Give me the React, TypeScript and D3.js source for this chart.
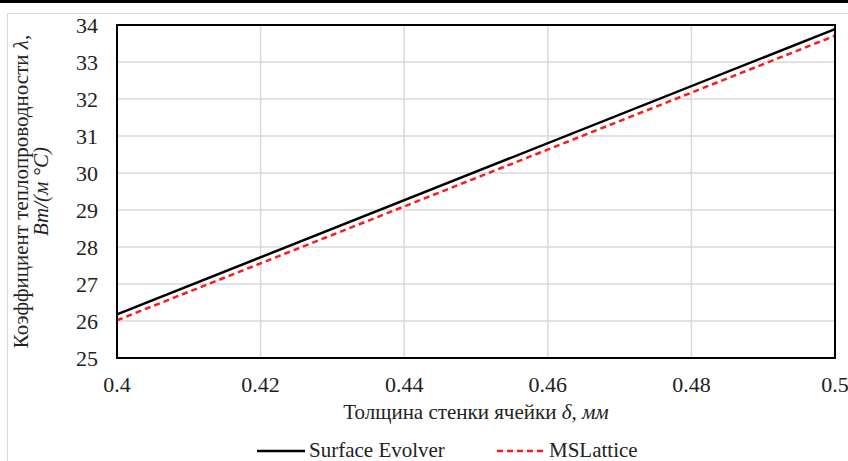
import React from "react";
import * as d3 from "d3";

const xValues = [0.4, 0.5];
const surfaceEvolver = [26.18, 33.89];
const msLattice = [26.02, 33.71];
const xTicks = [0.4, 0.42, 0.44, 0.46, 0.48, 0.5];
const yTicks = [25, 26, 27, 28, 29, 30, 31, 32, 33, 34];
const seriesNames = ["Surface Evolver", "MSLattice"];

const W = 848, H = 461;
const left = 117, right = 835, top = 25, bottom = 358;
const font = '"Liberation Serif", serif';

export default function App() {
  const x = d3.scaleLinear().domain([0.4, 0.5]).range([left, right]);
  const y = d3.scaleLinear().domain([25, 34]).range([bottom, top]);
  const line = d3.line<number>().x((_, i) => x(xValues[i])).y((d) => y(d));
  const xFmt = (v: number) => String(+v.toFixed(2));
  return (
    <svg width={W} height={H} style={{ position: "absolute", left: 0, top: 0, background: "#fff" }}>
      <rect x={0} y={0} width={W} height={3} fill="#000" />
      <line x1={7.5} y1={13.5} x2={W} y2={13.5} stroke="#d9d9d9" />
      <line x1={7.5} y1={13.5} x2={7.5} y2={H} stroke="#d9d9d9" />
      {yTicks.map((t) => (
        <line key={"gy" + t} x1={left} x2={right} y1={y(t)} y2={y(t)} stroke="#d9d9d9" strokeWidth={1.5} />
      ))}
      {xTicks.map((t) => (
        <line key={"gx" + t} x1={x(t)} x2={x(t)} y1={top} y2={bottom} stroke="#d9d9d9" strokeWidth={1.5} />
      ))}
      <path d={line(surfaceEvolver) || ""} fill="none" stroke="#000" strokeWidth={2.5} />
      <path d={line(msLattice) || ""} fill="none" stroke="#ff1a1a" strokeWidth={2.5} strokeDasharray="6,4" />
      <rect x={left} y={top} width={right - left} height={bottom - top} fill="none" stroke="#000" strokeWidth={2} />
      <g fontFamily={font} fill="#222">
        {yTicks.map((t) => (
          <text key={"ty" + t} x={98} y={y(t)} dy="0.35em" textAnchor="end" fontSize={22}>
            {t}
          </text>
        ))}
        {xTicks.map((t) => (
          <text key={"tx" + t} x={x(t)} y={392} textAnchor="middle" fontSize={22}>
            {xFmt(t)}
          </text>
        ))}
        <text x={(left + right) / 2} y={419} textAnchor="middle" fontSize={21}>
          Толщина стенки ячейки <tspan fontStyle="italic">δ, мм</tspan>
        </text>
        <g transform={`translate(28, ${(top + bottom) / 2}) rotate(-90)`}>
          <text x={0} y={0} textAnchor="middle" fontSize={21}>
            Коэффициент теплопроводности <tspan fontStyle="italic">λ</tspan>,
          </text>
          <text x={0} y={20} textAnchor="middle" fontSize={21} fontStyle="italic">
            Вт/(м °С)
          </text>
        </g>
        <text x={309} y={457} fontSize={21}>{seriesNames[0]}</text>
        <text x={549} y={457} fontSize={21}>{seriesNames[1]}</text>
      </g>
      <line x1={257} x2={305} y1={451} y2={451} stroke="#000" strokeWidth={2.5} />
      <line x1={497} x2={545} y1={451} y2={451} stroke="#ff1a1a" strokeWidth={2.5} strokeDasharray="6,4" />
    </svg>
  );
}
